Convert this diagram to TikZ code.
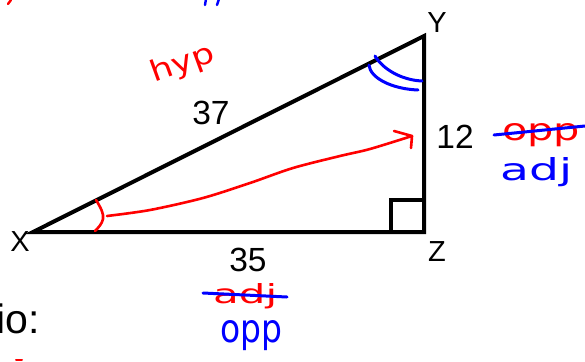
\documentclass[tikz,border=0pt]{standalone}
\usepackage{fontspec}
\setmainfont{Liberation Sans}
\newfontfamily\hwfont{DejaVu Sans}
\newcommand{\hw}[3]{\resizebox{#1pt}{#2pt}{\hwfont #3}}
\definecolor{penred}{RGB}{255,0,0}
\definecolor{penblue}{RGB}{0,0,255}
\begin{document}
\begin{tikzpicture}[x=1pt,y=-1pt,
  tri/.style={line width=4pt,line join=miter},
  redpen/.style={draw=penred,line width=2.6pt,line cap=round,line join=round},
  bluepen/.style={draw=penblue,line width=3pt,line cap=round,line join=round},
  lbl/.style={inner sep=0pt,anchor=base,font=\fontsize{33.5}{40}\selectfont},
  vlbl/.style={inner sep=0pt,anchor=base,font=\fontsize{29}{34}\selectfont},
  hwtext/.style={inner sep=0pt,anchor=base west}]
\clip (0,0) rectangle (585,361);
\fill[white] (0,0) rectangle (585,361);
% triangle
\coordinate (X) at (33,232);
\coordinate (Z) at (424,232);
\coordinate (Y) at (424,36);
\draw[tri] (X) -- (Z) -- (Y) -- cycle;
\coordinate (sqA) at (391,232);
\coordinate (sqB) at (391,200);
\coordinate (sqC) at (424,200);
\draw[line width=3.8pt] (sqA) -- (sqB) -- (sqC);
% printed labels
\node[vlbl] (lY) at (437,33) {Y};
\node[vlbl] (lX) at (20,251) {X};
\node[vlbl] (lZ) at (437,261) {Z};
\node[lbl] (l37) at (211,124) {37};
\node[lbl] (l12) at (455,148) {12};
\node[lbl] (l35) at (248,271) {35};
\node[inner sep=0pt,anchor=base west,font=\fontsize{41}{48}\selectfont] (lio) at (-4,333) {io:};
% blue angle arcs at Y
\draw[bluepen] (375,56) .. controls (382,68) and (400,80) .. (422,81);
\draw[bluepen] (369,65) .. controls (370,78) and (392,89) .. (418,90);
% red angle mark at X
\draw[redpen] (96,200) .. controls (101,208) and (104,214) .. (103,219) .. controls (102,224) and (98,228) .. (95,231);
% red arrow
\coordinate (aT) at (412,136);
\draw[redpen] plot[smooth,tension=0.5] coordinates {(107,216) (150,210) (203,198) (250,183) (293,168) (340,156) (370,149) (412,136)};
\coordinate (hA) at (394,131);
\coordinate (hB) at (411,148);
\draw[redpen] (hA) -- (aT) -- (hB);
% hyp
\node[hwtext,text=penred,rotate=20] (hyp) at (154,83) {\hw{66}{22}{hyp}};
% right side opp / adj
\node[hwtext,text=penred] (oppR) at (502,140) {\hw{78}{17}{opp}};
\coordinate (sR1) at (494,135);
\coordinate (sR2) at (585,126);
\draw[bluepen] (sR1) -- (sR2);
\node[hwtext,text=penblue] (adjR) at (500,180) {\hw{72}{23}{adj}};
% bottom adj / opp
\node[hwtext,text=penred] (adjB) at (213,303) {\hw{64}{20}{adj}};
\coordinate (sB1) at (203,293);
\coordinate (sB2) at (287,297);
\draw[bluepen] (sB1) -- (sB2);
\node[hwtext,text=penblue] (oppB) at (220,342) {\hw{62}{22}{opp}};
% stray pen marks at the edges
\draw[redpen,line width=2.4pt] (8,4) -- (11,0);
\draw[redpen,line width=2pt] (16,360) -- (22,360);
\draw[bluepen,line width=2.4pt] (205,5) -- (206,-1);
\draw[bluepen,line width=2.4pt] (217,5) -- (219,-1);
\end{tikzpicture}
\end{document}
